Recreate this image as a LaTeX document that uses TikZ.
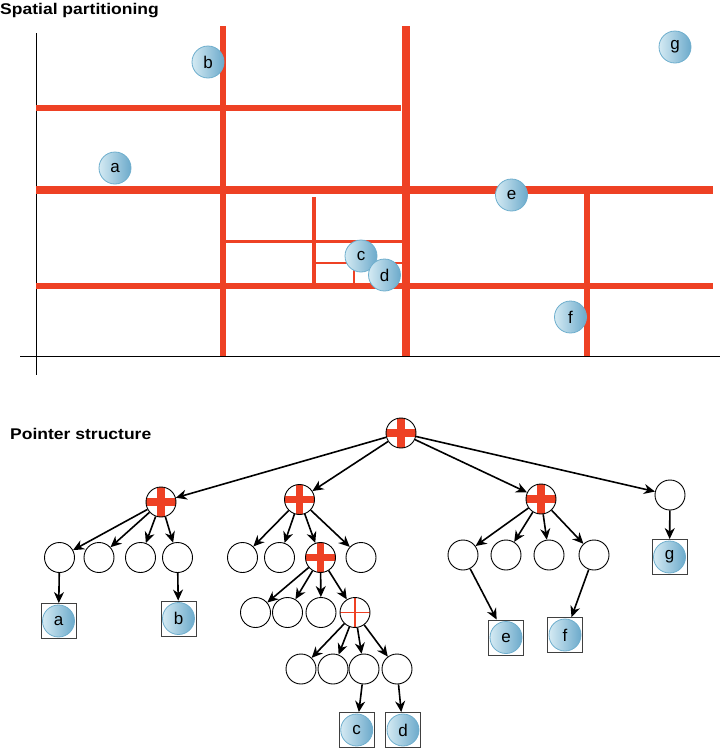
\documentclass[tikz,border=0pt]{standalone}
\usepackage{fontspec}
\setmainfont{Liberation Sans}
\usetikzlibrary{arrows.meta}
\definecolor{pred}{RGB}{238,65,36}
\definecolor{ballL}{RGB}{212,234,243}
\definecolor{ballR}{RGB}{108,170,203}
\definecolor{ballE}{RGB}{110,174,205}
\begin{document}
\begin{tikzpicture}[x=1pt,y=-1pt,
 ball/.style={circle,minimum size=32pt,inner sep=0pt,draw=ballE,line width=0.8pt,left color=ballL,right color=ballR,font=\fontsize{17}{17}\selectfont},
 tnode/.style={circle,draw,minimum size=30pt,inner sep=0pt,line width=0.9pt,fill=white},
 xthick/.style={tnode,path picture={\begin{scope}[shift={(path picture bounding box.center)}]
   \fill[pred] (-3.7,-16) rectangle (3.7,16); \fill[pred] (-16,-3.7) rectangle (16,3.7);\end{scope}}},
 xthin/.style={tnode,path picture={\begin{scope}[shift={(path picture bounding box.center)}]
   \draw[pred,line width=1.5pt] (-16,0) -- (16,0) (0,-16) -- (0,16);\end{scope}}},
 boxn/.style={draw=black!75,minimum size=35pt,inner sep=0pt,line width=0.9pt},
 arr/.style={line width=1.6pt,-{Stealth[length=11pt,width=10pt,inset=3.5pt]}},
 ttl/.style={anchor=base west,inner sep=0pt,font=\bfseries\fontsize{15.5}{16}\selectfont},
 redl/.style={pred,line width=#1}
]
\useasboundingbox (0,0) rectangle (720,748);
% titles
\node[ttl] (t1) at (0,14) {\scalebox{1.13}[1]{Spatial partitioning}};
\node[ttl] (t2) at (10,439) {\scalebox{1.13}[1]{Pointer structure}};
% axes
\draw[line width=1pt] (36,33) -- (36,375);
\draw[line width=1pt] (20,356) -- (720,356);
% red partition lines
\draw[redl=6.5pt] (223,26) -- (223,356);
\draw[redl=8pt] (406,26) -- (406,356);
\draw[redl=6.5pt] (36,108) -- (401,108);
\draw[redl=8pt] (36,190) -- (713,190);
\draw[redl=6.5pt] (36,286) -- (713,286);
\draw[redl=6pt] (586.5,190) -- (586.5,356);
\draw[redl=4pt] (313.5,197) -- (313.5,286);
\draw[redl=3.5pt] (225,241.5) -- (404,241.5);
\draw[redl=1.5pt] (315,263) -- (404,263);
\draw[redl=1.5pt] (354,263) -- (354,286);
% balls
\node[ball] (pa) at (115,168) {a};
\node[ball] (pb) at (208,62) {b};
\node[ball] (pc) at (361,256) {c};
\node[ball] (pd) at (384.5,275) {d};
\node[ball] (pe) at (511.5,195) {e};
\node[ball] (pf) at (570.5,317) {f};
\node[ball] (pg) at (675,47) {g};
% tree
\node[xthick] (root) at (401,433) {};
\node[xthick] (n1) at (161,502) {};
\node[xthick] (n2) at (299.5,499.5) {};
\node[xthick] (n3) at (541,499) {};
\node[tnode] (n4) at (670,495) {};
\node[tnode] (n11) at (59.5,557.5) {};
\node[tnode] (n12) at (99,557.5) {};
\node[tnode] (n13) at (140.5,557.5) {};
\node[tnode] (n14) at (177.5,557.5) {};
\node[tnode] (n21) at (242.5,557.5) {};
\node[tnode] (n22) at (279.5,557.5) {};
\node[xthick] (n23) at (320.5,557.5) {};
\node[tnode] (n24) at (361,557.5) {};
\node[tnode] (n231) at (255.5,612.5) {};
\node[tnode] (n232) at (287.5,612.5) {};
\node[tnode] (n233) at (321,612.5) {};
\node[xthin] (n234) at (355,612.5) {};
\node[tnode] (m1) at (301,669) {};
\node[tnode] (m2) at (333,669) {};
\node[tnode] (m3) at (364,669) {};
\node[tnode] (m4) at (397,669) {};
\node[tnode] (n31) at (463,555) {};
\node[tnode] (n32) at (506,555) {};
\node[tnode] (n33) at (549,555) {};
\node[tnode] (n34) at (594,555) {};
% leaf boxes
\node[boxn] (ba) at (58.5,621) {};   \node[ball] (la) at (ba) {a};
\node[boxn] (bb) at (178.5,618.5) {}; \node[ball] (lb) at (bb) {b};
\node[boxn] (bc) at (356.7,730) {};  \node[ball] (lc) at (bc) {c};
\node[boxn] (bd) at (403,730) {};    \node[ball] (ld) at (bd) {d};
\node[boxn] (be) at (506,637.5) {};  \node[ball] (le) at (be) {e};
\node[boxn] (bf) at (565,635) {};    \node[ball] (lf) at (bf) {f};
\node[boxn] (bg) at (669.5,557) {};  \node[ball] (lg) at (bg) {g};
% arrows
\foreach \c in {n1,n2,n3,n4} \draw[arr] (root) -- (\c);
\foreach \c in {n11,n12,n13,n14} \draw[arr] (n1) -- (\c);
\foreach \c in {n21,n22,n23,n24} \draw[arr] (n2) -- (\c);
\foreach \c in {n231,n232,n233,n234} \draw[arr] (n23) -- (\c);
\foreach \c in {m1,m2,m3,m4} \draw[arr] (n234) -- (\c);
\foreach \c in {n31,n32,n33,n34} \draw[arr] (n3) -- (\c);
\draw[arr] (n11) -- (ba);
\draw[arr] (n14) -- (bb);
\draw[arr] (m3) -- (bc);
\draw[arr] (m4) -- (bd);
\draw[arr] (n31) -- (be);
\draw[arr] (n34) -- (bf);
\draw[arr] (n4) -- (bg);
\end{tikzpicture}
\end{document}
